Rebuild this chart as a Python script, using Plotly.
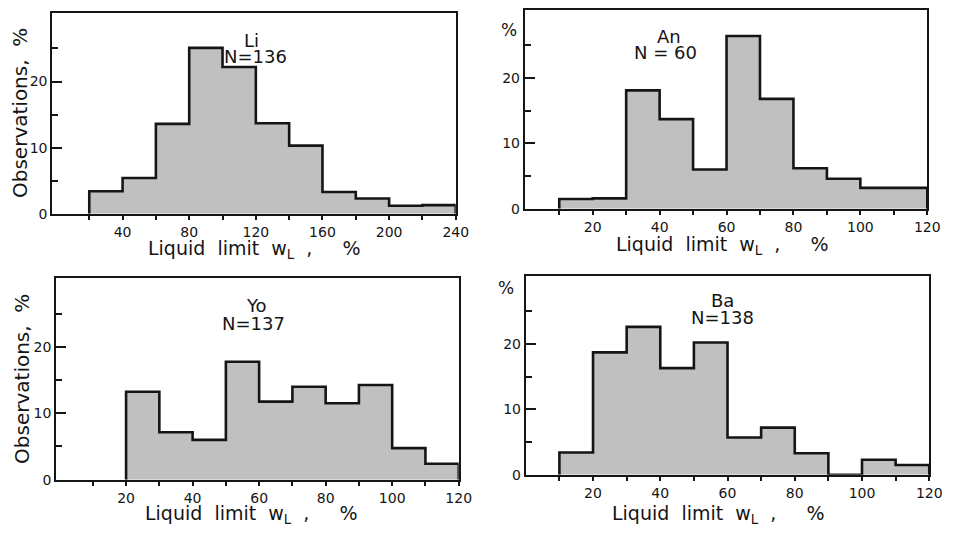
import plotly.graph_objects as go

# ---------------- data ----------------
li_edges = [20, 40, 60, 80, 100, 120, 140, 160, 180, 200, 220, 240]
li_vals = [3.4, 5.4, 13.6, 25.1, 22.2, 13.7, 10.3, 3.3, 2.3, 1.2, 1.3]

an_edges = [10, 20, 30, 40, 50, 60, 70, 80, 90, 100, 110, 120]
an_vals = [1.5, 1.6, 18.1, 13.7, 6.0, 26.4, 16.8, 6.2, 4.6, 3.2, 3.2]

yo_edges = [20, 30, 40, 50, 60, 70, 80, 90, 100, 110, 120]
yo_vals = [13.25, 7.15, 6.0, 17.75, 11.75, 14.0, 11.5, 14.25, 4.75, 2.4]

ba_edges = [10, 20, 30, 40, 50, 60, 70, 80, 90, 100, 110, 120]
ba_vals = [3.4, 18.7, 22.6, 16.3, 20.2, 5.7, 7.2, 3.3, 0.0, 2.3, 1.5]

names = ["Li", "An", "Yo", "Ba"]
counts = ["N=136", "N = 60", "N=137", "N=138"]

li_xticks = [40, 80, 120, 160, 200, 240]
li_xminor = [20, 60, 100, 140, 180, 220]
xticks_120 = [20, 40, 60, 80, 100, 120]
xminor_120 = [10, 30, 50, 70, 90, 110]
yticks = [0, 10, 20]
yminor = [5, 15, 25]

# ---------------- layout helpers ----------------
W, H = 960, 534
FONT = "DejaVu Sans"
INK = "#151515"


def px(x):
    return x / W


def py(y):
    return 1 - y / H


panels = [
    # (edges, vals, xrange, xticks, xminor, frame px: left, right, top, bottom)
    (li_edges, li_vals, [-2.2, 240], li_xticks, li_xminor, (53, 462, 13, 217)),
    (an_edges, an_vals, [-0.3, 120], xticks_120, xminor_120, (532, 940, 10, 212)),
    (yo_edges, yo_vals, [-1, 120], xticks_120, xminor_120, (57, 465, 282, 487)),
    (ba_edges, ba_vals, [0, 120], xticks_120, xminor_120, (533, 942, 280, 482)),
]

fig = go.Figure()
layout = dict(
    width=W, height=H, margin=dict(l=0, r=0, t=0, b=0),
    paper_bgcolor="white", plot_bgcolor="white", showlegend=False,
    font=dict(family=FONT, color=INK),
)

for i, (edges, vals, xr, xt, xm, (l, r, t, b)) in enumerate(panels):
    k = "" if i == 0 else str(i + 1)
    xs = [edges[0]] + list(edges)
    ys = [0] + list(vals) + [0]
    fig.add_trace(go.Scatter(
        x=xs, y=ys, mode="lines", line=dict(shape="hv", color=INK, width=2.6),
        fill="tozeroy", fillcolor="#c0c0c0", hoverinfo="skip",
        xaxis="x" + k, yaxis="y" + k,
    ))
    layout["xaxis" + k] = dict(
        domain=[px(l), px(r)], anchor="y" + k, range=xr,
        showgrid=False, zeroline=False, showline=True, linecolor=INK, linewidth=2,
        mirror=True, ticks="outside", ticklen=4, tickwidth=1.5, tickcolor=INK,
        tickmode="array", tickvals=xt, ticktext=[str(v) for v in xt],
        tickfont=dict(size=14, family=FONT, color=INK),
        minor=dict(tickmode="array", tickvals=xm, ticks="outside", ticklen=4,
                   tickwidth=1.5, tickcolor=INK, showgrid=False),
    )
    layout["yaxis" + k] = dict(
        domain=[py(b), py(t)], anchor="x" + k, range=[0, 30.4],
        showgrid=False, zeroline=False, showline=True, linecolor=INK, linewidth=2,
        mirror=True, ticks="inside", ticklen=10, tickwidth=1.5, tickcolor=INK,
        tickmode="array", tickvals=yticks, ticktext=[str(v) for v in yticks],
        tickfont=dict(size=14, family=FONT, color=INK),
        minor=dict(tickmode="array", tickvals=yminor, ticks="inside", ticklen=6,
                   tickwidth=1.5, tickcolor=INK, showgrid=False),
    )

fig.update_layout(**layout)

ann = []
# panel labels
label_pos = [((255, 41), (259, 57)), ((678, 37), (675, 53)),
             ((260, 310), (257, 328)), ((732, 305), (732, 322))]
for name, cnt, (p1, p2) in zip(names, counts, label_pos):
    ann.append(dict(x=px(p1[0]), y=py(p1[1]), text=name, showarrow=False,
                    xref="paper", yref="paper", xanchor="center", yanchor="middle",
                    font=dict(size=18, family=FONT, color=INK)))
    ann.append(dict(x=px(p2[0]), y=py(p2[1]), text=cnt, showarrow=False,
                    xref="paper", yref="paper", xanchor="center", yanchor="middle",
                    font=dict(size=18, family=FONT, color=INK)))

nb = "\u00a0"
xtitle = ("Liquid" + nb * 2 + "limit" + nb * 2 + "w<sub>L</sub>" + nb * 2 + "," + nb * 5 + "%")
for (cx, cy) in [(258, 253), (732, 249), (255, 522), (728, 522)]:
    ann.append(dict(x=px(cx), y=py(cy), text=xtitle, showarrow=False,
                    xref="paper", yref="paper", xanchor="center", yanchor="middle",
                    font=dict(size=19, family=FONT, color=INK)))

ytitle = "Observations," + nb * 2 + "%"
for (cx, cy) in [(21, 115), (23, 385)]:
    ann.append(dict(x=px(cx), y=py(cy), text=ytitle, showarrow=False, textangle=-90,
                    xref="paper", yref="paper", xanchor="center", yanchor="middle",
                    font=dict(size=20, family=FONT, color=INK)))

for (cx, cy) in [(516, 30), (513, 292)]:
    ann.append(dict(x=px(cx), y=py(cy), text="%", showarrow=False,
                    xref="paper", yref="paper", xanchor="center", yanchor="middle",
                    font=dict(size=17, family=FONT, color=INK)))

fig.update_layout(annotations=ann)
fig.write_html("out.html")
